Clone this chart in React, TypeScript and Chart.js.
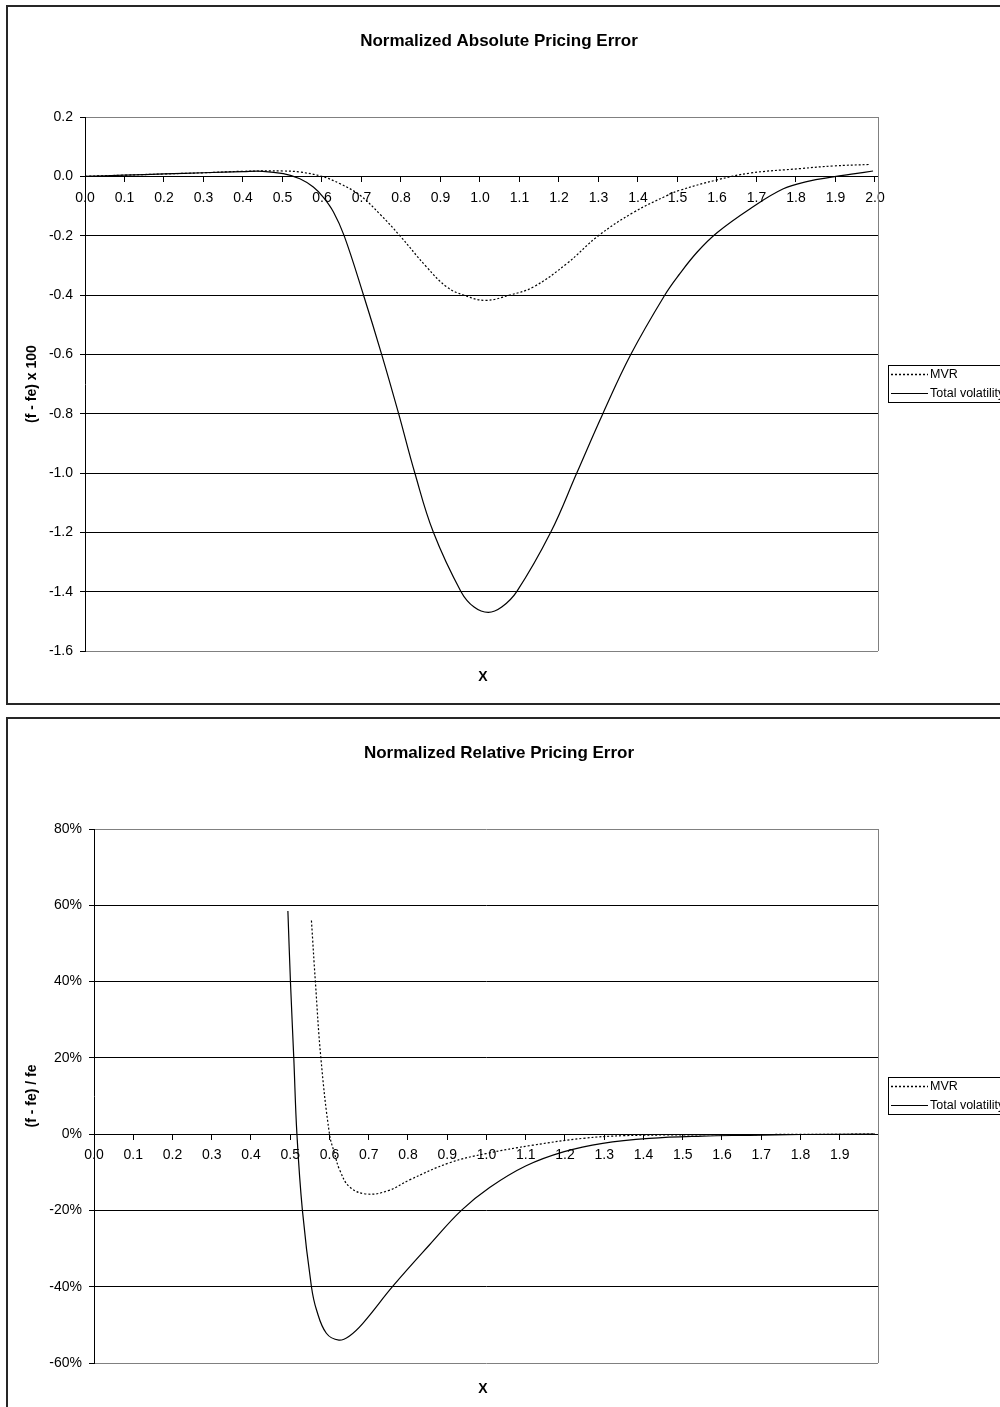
import React, { useEffect, useRef } from "react";
import { Chart, registerables } from "chart.js";

Chart.register(...registerables);

const FONT = 'Arial, "Liberation Sans", Helvetica, sans-serif';

const SERIES_NAMES = ["MVR", "Total volatility"];

// ---------- Chart 1: Normalized Absolute Pricing Error ----------
const ABS_TITLE = "Normalized Absolute Pricing Error";
const ABS_Y_TITLE = "(f - fe) x 100";
const ABS_X_TICKS = [0.0, 0.1, 0.2, 0.3, 0.4, 0.5, 0.6, 0.7, 0.8, 0.9, 1.0, 1.1, 1.2, 1.3, 1.4, 1.5, 1.6, 1.7, 1.8, 1.9, 2.0];
const ABS_Y_TICKS = [0.2, 0.0, -0.2, -0.4, -0.6, -0.8, -1.0, -1.2, -1.4, -1.6];

const ABS_MVR_X = [0, 0.1, 0.2, 0.3, 0.4, 0.502, 0.544, 0.599, 0.646, 0.696, 0.747, 0.797, 0.865, 0.916, 0.958, 1.013, 1.076, 1.135, 1.219, 1.3, 1.388, 1.473, 1.506, 1.6, 1.684, 1.81, 1.894, 1.987];
const ABS_MVR_Y = [0, 0.004, 0.008, 0.012, 0.017, 0.018, 0.0145, 0, -0.025, -0.064, -0.128, -0.2, -0.306, -0.373, -0.4, -0.418, -0.4, -0.373, -0.295, -0.2, -0.122, -0.065, -0.047, -0.012, 0.011, 0.026, 0.035, 0.04];

const ABS_TV_X = [0, 0.1, 0.2, 0.3, 0.4, 0.45, 0.502, 0.544, 0.578, 0.603, 0.629, 0.656, 0.705, 0.751, 0.794, 0.835, 0.882, 0.952, 0.985, 1.021, 1.055, 1.093, 1.179, 1.245, 1.311, 1.382, 1.468, 1.506, 1.55, 1.6, 1.684, 1.768, 1.83, 1.894, 1.95, 1.995];
const ABS_TV_Y = [0, 0.004, 0.008, 0.012, 0.016, 0.017, 0.009, -0.008, -0.036, -0.07, -0.12, -0.2, -0.4, -0.6, -0.8, -1.0, -1.2, -1.4, -1.452, -1.47, -1.452, -1.4, -1.2, -1.0, -0.8, -0.6, -0.4, -0.328, -0.255, -0.19, -0.109, -0.042, -0.017, -0.002, 0.009, 0.018];

// ---------- Chart 2: Normalized Relative Pricing Error ----------
const REL_TITLE = "Normalized Relative Pricing Error";
const REL_Y_TITLE = "(f - fe) / fe";
const REL_X_TICKS = [0.0, 0.1, 0.2, 0.3, 0.4, 0.5, 0.6, 0.7, 0.8, 0.9, 1.0, 1.1, 1.2, 1.3, 1.4, 1.5, 1.6, 1.7, 1.8, 1.9];
const REL_Y_TICKS = [0.8, 0.6, 0.4, 0.2, 0.0, -0.2, -0.4, -0.6];

const REL_MVR_X = [0.554, 0.564, 0.578, 0.6, 0.613, 0.626, 0.651, 0.694, 0.75, 0.804, 0.906, 0.999, 1.118, 1.246, 1.35, 1.5, 1.7, 1.99];
const REL_MVR_Y = [0.56, 0.4, 0.2, 0.0, -0.051, -0.094, -0.138, -0.157, -0.148, -0.12, -0.075, -0.051, -0.029, -0.011, -0.004, -0.002, -0.001, 0.0];

const REL_TV_X = [0.494, 0.5005, 0.509, 0.517, 0.531, 0.554, 0.567, 0.592, 0.624, 0.651, 0.685, 0.762, 0.855, 0.936, 1.008, 1.101, 1.198, 1.296, 1.415, 1.55, 1.67, 1.8, 1.99];
const REL_TV_Y = [0.585, 0.4, 0.2, 0.0, -0.2, -0.4, -0.461, -0.522, -0.54, -0.529, -0.496, -0.398, -0.29, -0.2, -0.14, -0.083, -0.046, -0.024, -0.011, -0.005, -0.003, -0.001, 0.0];

const CANVAS_W = 1000;
const CANVAS_H = 712;
const PLOT_TOP = 117;
const PLOT_BOTTOM = 651;
const PLOT_RIGHT = 878;

type ChartProps = {
  title: string;
  yTitle: string;
  xTicks: number[];
  yTicks: number[];
  xMax: number;
  plotLeft: number;
  mvrX: number[];
  mvrY: number[];
  tvX: number[];
  tvY: number[];
  yFormat: (v: number) => string;
};

function toPoints(xs: number[], ys: number[]) {
  return xs.map((x, i) => ({ x, y: ys[i] }));
}

function PricingChart(props: ChartProps) {
  const ref = useRef<HTMLCanvasElement | null>(null);
  useEffect(() => {
    const canvas = ref.current;
    if (!canvas) return;
    const yMax = props.yTicks[0];
    const yMin = props.yTicks[props.yTicks.length - 1];

    const overlay = {
      id: "overlay",
      afterDraw(chart: any) {
        const ctx = chart.ctx;
        const a = chart.chartArea;
        ctx.save();
        ctx.strokeStyle = "#808080";
        ctx.lineWidth = 1;
        ctx.beginPath();
        ctx.moveTo(Math.round(a.right) + 0.5, a.top);
        ctx.lineTo(Math.round(a.right) + 0.5, a.bottom);
        ctx.stroke();
        ctx.fillStyle = "#000";
        ctx.textAlign = "center";
        ctx.textBaseline = "middle";
        ctx.font = `bold 17px ${FONT}`;
        ctx.fillText(props.title, 499, 41);
        ctx.font = `bold 14px ${FONT}`;
        ctx.fillText("X", 483, 677);
        ctx.save();
        ctx.translate(32, (a.top + a.bottom) / 2);
        ctx.rotate(-Math.PI / 2);
        ctx.fillText(props.yTitle, 0, 0);
        ctx.restore();
        const lx = 888, ly = 365;
        ctx.strokeStyle = "#000";
        ctx.lineWidth = 1;
        ctx.strokeRect(lx + 0.5, ly + 0.5, 140, 37);
        ctx.font = `12.5px ${FONT}`;
        ctx.textAlign = "left";
        const rows = [ly + 9, ly + 28];
        rows.forEach((ry, i) => {
          ctx.beginPath();
          ctx.setLineDash(i === 0 ? [2, 2] : []);
          ctx.lineWidth = i === 0 ? 1.5 : 1;
          ctx.moveTo(lx + 3, ry + 0.5);
          ctx.lineTo(lx + 40, ry + 0.5);
          ctx.stroke();
          ctx.setLineDash([]);
          ctx.fillText(SERIES_NAMES[i], lx + 42, ry + 1);
        });
        ctx.restore();
      },
    };

    const chart = new Chart(canvas, {
      type: "scatter",
      data: {
        datasets: [
          {
            label: SERIES_NAMES[0],
            data: toPoints(props.mvrX, props.mvrY),
            showLine: true,
            borderColor: "#000",
            borderWidth: 1.2,
            borderDash: [2, 2],
            pointRadius: 0,
            tension: 0.4,
            fill: false,
          },
          {
            label: SERIES_NAMES[1],
            data: toPoints(props.tvX, props.tvY),
            showLine: true,
            borderColor: "#000",
            borderWidth: 1.2,
            pointRadius: 0,
            tension: 0.4,
            fill: false,
          },
        ],
      },
      options: {
        responsive: false,
        animation: false,
        devicePixelRatio: 1,
        events: [],
        layout: {
          padding: {
            left: 0,
            top: PLOT_TOP,
            right: CANVAS_W - PLOT_RIGHT,
            bottom: CANVAS_H - PLOT_BOTTOM,
          },
        },
        plugins: {
          legend: { display: false },
          title: { display: false },
          tooltip: { enabled: false },
        },
        scales: {
          x: {
            type: "linear",
            position: { y: 0 } as any,
            min: 0,
            max: props.xMax,
            afterBuildTicks: (s: any) => {
              s.ticks = props.xTicks.map((v) => ({ value: v }));
            },
            grid: {
              drawOnChartArea: false,
              drawTicks: true,
              tickLength: 5,
              color: "#000",
              tickColor: "#000",
              lineWidth: 1,
            },
            border: { display: true, color: "#000", width: 1 },
            ticks: {
              color: "#000",
              font: { family: FONT, size: 14 },
              padding: 8,
              maxRotation: 0,
              minRotation: 0,
              autoSkip: false,
              callback: (v: any) => Number(v).toFixed(1),
            },
          },
          y: {
            type: "linear",
            position: "left",
            min: yMin,
            max: yMax,
            afterBuildTicks: (s: any) => {
              s.ticks = props.yTicks.map((v) => ({ value: v }));
            },
            afterFit: (s: any) => {
              s.width = props.plotLeft;
            },
            grid: {
              drawTicks: true,
              tickLength: 5,
              color: (c: any) =>
                c.tick && (Math.abs(c.tick.value - yMax) < 1e-9 || Math.abs(c.tick.value - yMin) < 1e-9)
                  ? "#808080"
                  : "#000",
              tickColor: "#000",
              lineWidth: 1,
            },
            border: { display: true, color: "#000", width: 1 },
            ticks: {
              color: "#000",
              font: { family: FONT, size: 14 },
              padding: 7,
              autoSkip: false,
              callback: (v: any) => props.yFormat(Number(v)),
            },
          },
        },
      },
      plugins: [overlay],
    } as any);
    return () => chart.destroy();
  }, []);

  return (
    <canvas
      ref={ref}
      width={CANVAS_W}
      height={CANVAS_H}
      style={{ position: "absolute", left: 0, top: 0, width: CANVAS_W, height: CANVAS_H }}
    />
  );
}

export default function App() {
  const box: React.CSSProperties = {
    position: "absolute",
    left: 6,
    top: 5,
    width: 1100,
    border: "2px solid #262626",
    boxSizing: "border-box",
    pointerEvents: "none",
  };
  return (
    <div
      style={{
        position: "fixed",
        left: 0,
        top: 0,
        width: 1000,
        height: 1407,
        overflow: "hidden",
        background: "#fff",
      }}
    >
      <div style={{ position: "absolute", left: 0, top: 0, width: CANVAS_W, height: CANVAS_H }}>
        <PricingChart
          title={ABS_TITLE}
          yTitle={ABS_Y_TITLE}
          xTicks={ABS_X_TICKS}
          yTicks={ABS_Y_TICKS}
          xMax={2.0076}
          plotLeft={85}
          mvrX={ABS_MVR_X}
          mvrY={ABS_MVR_Y}
          tvX={ABS_TV_X}
          tvY={ABS_TV_Y}
          yFormat={(v) => (Math.abs(v) < 1e-9 ? 0 : v).toFixed(1)}
        />
        <div style={{ ...box, height: 700 }} />
      </div>
      <div style={{ position: "absolute", left: 0, top: 712, width: CANVAS_W, height: CANVAS_H }}>
        <PricingChart
          title={REL_TITLE}
          yTitle={REL_Y_TITLE}
          xTicks={REL_X_TICKS}
          yTicks={REL_Y_TICKS}
          xMax={1.9975}
          plotLeft={94}
          mvrX={REL_MVR_X}
          mvrY={REL_MVR_Y}
          tvX={REL_TV_X}
          tvY={REL_TV_Y}
          yFormat={(v) => `${Math.round(v * 100)}%`}
        />
        <div style={{ ...box, height: 800 }} />
      </div>
    </div>
  );
}
